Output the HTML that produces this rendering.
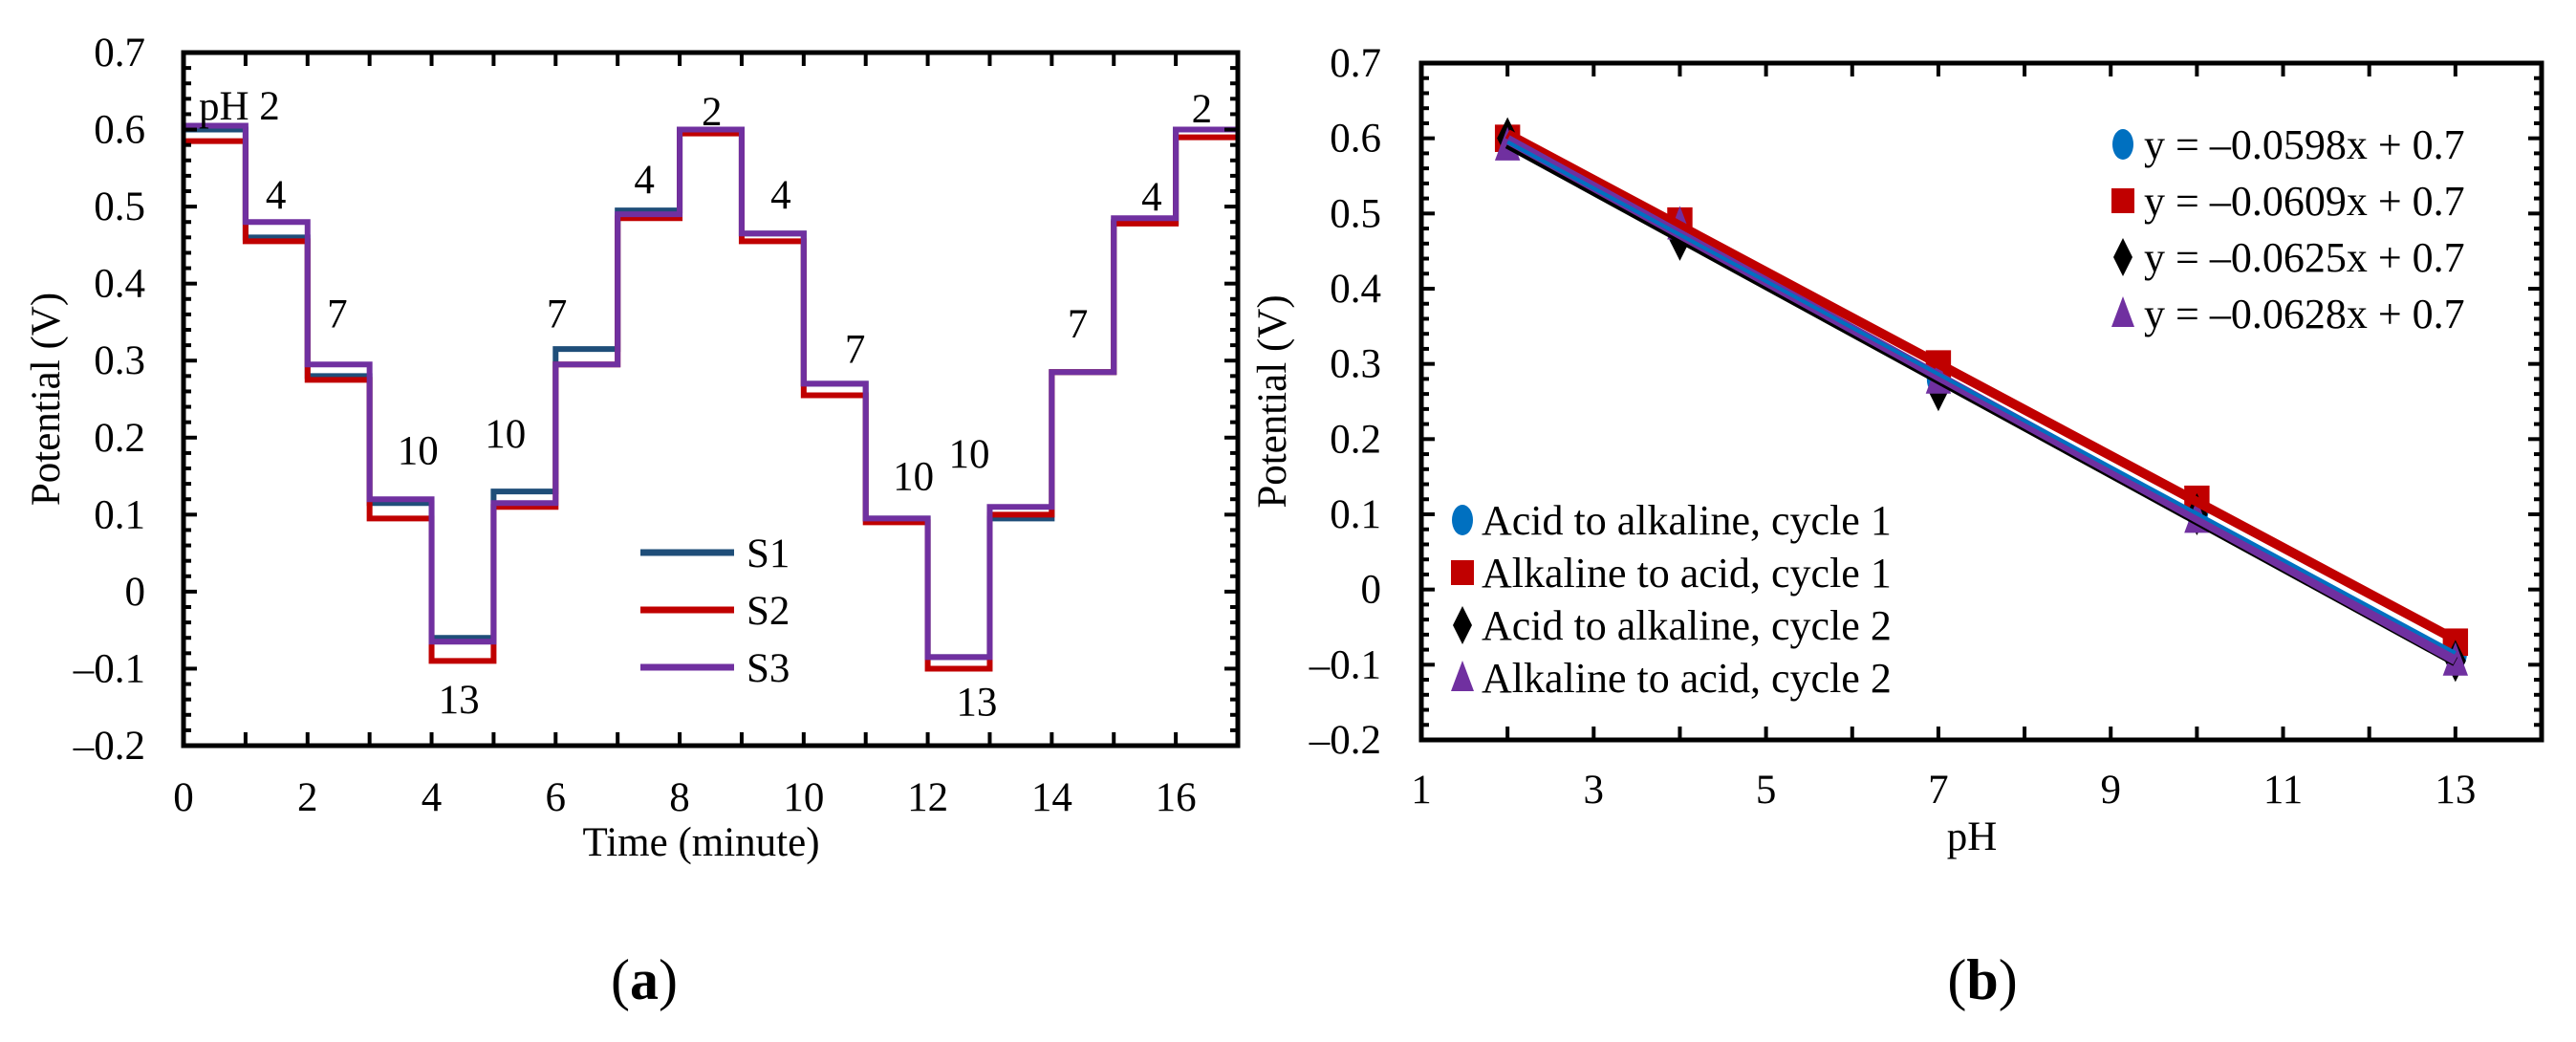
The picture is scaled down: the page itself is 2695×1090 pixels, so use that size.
<!DOCTYPE html>
<html><head><meta charset="utf-8">
<style>
html,body{margin:0;padding:0;background:#fff;}
svg{display:block;font-family:"Liberation Serif",serif;}
</style></head>
<body>
<svg id="fig" width="2695" height="1090" viewBox="0 0 2695 1090" xmlns="http://www.w3.org/2000/svg">
<g id="chartA"></g>
<g id="chartB"></g>
<text x="674" y="1045" font-size="60" text-anchor="middle">(<tspan font-weight="bold">a</tspan>)</text>
<text x="2074" y="1045" font-size="60" text-anchor="middle">(<tspan font-weight="bold">b</tspan>)</text>
</svg>
<script>
// ---------- Chart A data ----------
const segStart = [0,1,2,3,4,5,6,7,8,9,10,11,12,13,14,15,16];
const s1Values = [0.600,0.460,0.280,0.115,-0.060,0.130,0.315,0.495,0.600,0.465,0.270,0.095,-0.085,0.095,0.285,0.480,0.600];
const s2Values = [0.585,0.455,0.275,0.095,-0.090,0.110,0.295,0.485,0.595,0.455,0.255,0.090,-0.100,0.100,0.285,0.478,0.590];
const s3Values = [0.605,0.480,0.295,0.120,-0.065,0.115,0.295,0.490,0.600,0.465,0.270,0.095,-0.085,0.110,0.285,0.485,0.600];
const seriesNamesA = ["S1","S2","S3"];
const phLabels = ["pH 2","4","7","10","13","10","7","4","2","4","7","10","13","10","7","4","2"];
const phLabelT = [0.9,1.49,2.48,3.78,4.44,5.19,6.02,7.43,8.52,9.63,10.83,11.77,12.79,12.67,14.42,15.61,16.42];
const phLabelV = [0.632,0.516,0.362,0.184,-0.139,0.206,0.362,0.536,0.624,0.516,0.316,0.151,-0.142,0.180,0.349,0.514,0.628];
const xTicksA = [0,2,4,6,8,10,12,14,16];
const yTicksA = [0.7,0.6,0.5,0.4,0.3,0.2,0.1,0,-0.1,-0.2];

// ---------- Chart B data ----------
const phValues = [2,4,7,10,13];
const acidAlk1 = [0.595,0.475,0.280,0.105,-0.085];
const alkAcid1 = [0.600,0.490,0.300,0.120,-0.070];
const acidAlk2 = [0.600,0.465,0.265,0.100,-0.095];
const alkAcid2 = [0.590,0.485,0.280,0.095,-0.095];
const legendNamesB = ["Acid to alkaline, cycle 1","Alkaline to acid, cycle 1","Acid to alkaline, cycle 2","Alkaline to acid, cycle 2"];
const equations = ["y = \u20130.0598x + 0.7","y = \u20130.0609x + 0.7","y = \u20130.0625x + 0.7","y = \u20130.0628x + 0.7"];
const xTicksB = [1,3,5,7,9,11,13];
const yTicksB = [0.7,0.6,0.5,0.4,0.3,0.2,0.1,0,-0.1,-0.2];

const NS="http://www.w3.org/2000/svg";
const FS=43;
function mk(parent,tag,attrs,text){const e=document.createElementNS(NS,tag);for(const k in attrs)e.setAttribute(k,attrs[k]);if(text!==undefined)e.textContent=text;parent.appendChild(e);return e;}
function fmt(v){let s=(Math.round(v*10)/10).toString();return s.replace('-','\u2013');}

// ===== Chart A =====
(function(){
const g=document.getElementById('chartA');
const L=192,R=1295,T=55,B=780, x0=0,x1=17, y0=-0.2,y1=0.7;
const X=v=>L+(v-x0)/(x1-x0)*(R-L);
const Y=v=>B-(v-y0)/(y1-y0)*(B-T);
const colors=["#1f4e79","#c00000","#7030a0"];
const all=[s1Values,s2Values,s3Values];
all.forEach((vals,si)=>{
  let d="";
  segStart.forEach((t,i)=>{
    d+=(i===0?"M":"L")+X(t)+","+Y(vals[i])+" L"+X(t+1)+","+Y(vals[i])+" ";
  });
  const p=mk(g,'path',{d:d,fill:"none",stroke:colors[si],"stroke-width":6});
  
  
});
const f=mk(g,'rect',{x:L,y:T,width:R-L,height:B-T,fill:"none",stroke:"#000","stroke-width":5});


for(let t=1;t<17;t++){
  mk(g,'line',{x1:X(t),x2:X(t),y1:B,y2:B-14,stroke:"#000","stroke-width":4});
  mk(g,'line',{x1:X(t),x2:X(t),y1:T,y2:T+14,stroke:"#000","stroke-width":4});
}
for(let k=0;k<=45;k++){
  const v=y0+k*0.02, major=(k%5===0), len=major?14:8;
  mk(g,'line',{x1:L,x2:L+len,y1:Y(v),y2:Y(v),stroke:"#000","stroke-width":4});
  mk(g,'line',{x1:R,x2:R-len,y1:Y(v),y2:Y(v),stroke:"#000","stroke-width":4});
}
xTicksA.forEach(t=>{
  const e=mk(g,'text',{x:X(t),y:848,"font-size":FS,"text-anchor":"middle"},String(t));
  
  
});
yTicksA.forEach(v=>{
  const e=mk(g,'text',{x:152,y:Y(v)+14,"font-size":FS,"text-anchor":"end"},fmt(v));
  
  
});
const xt=mk(g,'text',{x:(L+R)/2-10,y:895,"font-size":FS,"text-anchor":"middle"},"Time (minute)");


const yt=mk(g,'text',{x:0,y:0,"font-size":FS,"text-anchor":"middle",transform:"translate(62,"+((T+B)/2)+") rotate(-90)"},"Potential (V)");


phLabels.forEach((lab,i)=>{
  const e=mk(g,'text',{x:X(phLabelT[i]),y:Y(phLabelV[i])+15,"font-size":FS,"text-anchor":"middle"},lab);
  
  
});
seriesNamesA.forEach((n,i)=>{
  const y=578+i*60;
  const l=mk(g,'line',{x1:670,x2:768,y1:y,y2:y,stroke:colors[i],"stroke-width":7});
  
  
  const t=mk(g,'text',{x:781,y:y+15,"font-size":FS},n);
  
  
});
})();

// ===== Chart B =====
(function(){
const g=document.getElementById('chartB');
const L=1487,R=2659,T=66,B=774, x0=1,x1=14, y0=-0.2,y1=0.7;
const X=v=>L+(v-x0)/(x1-x0)*(R-L);
const Y=v=>B-(v-y0)/(y1-y0)*(B-T);
const colors=["#0070c0","#c00000","#000000","#7030a0"];
const sets=[acidAlk1,alkAcid1,acidAlk2,alkAcid2];
function fit(ys){const n=phValues.length;let sx=0,sy=0,sxx=0,sxy=0;phValues.forEach((x,i)=>{sx+=x;sy+=ys[i];sxx+=x*x;sxy+=x*ys[i];});const m=(n*sxy-sx*sy)/(n*sxx-sx*sx);return [m,(sy-m*sx)/n];}
function marker(parent,type,cx,cy,col,s){
  let e;
  if(type===0) e=mk(parent,'ellipse',{cx:cx,cy:cy,rx:s*0.55,ry:s*0.8,fill:col});
  else if(type===1) e=mk(parent,'rect',{x:cx-s*0.6,y:cy-s*0.65,width:s*1.2,height:s*1.3,fill:col});
  else if(type===2) e=mk(parent,'polygon',{points:`${cx},${cy-s} ${cx+s*0.5},${cy} ${cx},${cy+s} ${cx-s*0.5},${cy}`,fill:col});
  else e=mk(parent,'polygon',{points:`${cx},${cy-s*0.9} ${cx+s*0.6},${cy+s*0.7} ${cx-s*0.6},${cy+s*0.7}`,fill:col});
  return e;
}
sets.forEach((ys,si)=>{
  phValues.forEach((x,i)=>{
    const e=marker(g,si,X(x),Y(ys[i]),colors[si],22);
    
    
  });
});
[1,2,3,0].forEach(si=>{
  const [m,b]=fit(sets[si]);
  const xa=phValues[0],xb=phValues[phValues.length-1];
  const l=mk(g,'line',{x1:X(xa),y1:Y(m*xa+b),x2:X(xb),y2:Y(m*xb+b),stroke:colors[si],"stroke-width":si===0?4:10});
  
  
});
const f=mk(g,'rect',{x:L,y:T,width:R-L,height:B-T,fill:"none",stroke:"#000","stroke-width":5});


for(let t=2;t<14;t++){
  mk(g,'line',{x1:X(t),x2:X(t),y1:B,y2:B-14,stroke:"#000","stroke-width":4});
  mk(g,'line',{x1:X(t),x2:X(t),y1:T,y2:T+14,stroke:"#000","stroke-width":4});
}
for(let k=0;k<=45;k++){
  const v=y0+k*0.02, major=(k%5===0), len=major?14:8;
  mk(g,'line',{x1:L,x2:L+len,y1:Y(v),y2:Y(v),stroke:"#000","stroke-width":4});
  mk(g,'line',{x1:R,x2:R-len,y1:Y(v),y2:Y(v),stroke:"#000","stroke-width":4});
}
xTicksB.forEach(t=>{
  const e=mk(g,'text',{x:X(t),y:840,"font-size":FS,"text-anchor":"middle"},String(t));
  
  
});
yTicksB.forEach(v=>{
  const e=mk(g,'text',{x:1445,y:Y(v)+14,"font-size":FS,"text-anchor":"end"},fmt(v));
  
  
});
const xt=mk(g,'text',{x:2063,y:889,"font-size":FS,"text-anchor":"middle"},"pH");


const yt=mk(g,'text',{x:0,y:0,"font-size":FS,"text-anchor":"middle",transform:"translate(1345,"+((T+B)/2)+") rotate(-90)"},"Potential (V)");


equations.forEach((eq,i)=>{
  const y=151+i*59;
  const m=marker(g,i,2221,y,colors[i],20);
  
  
  const t=mk(g,'text',{x:2243,y:y+15,"font-size":44},eq);
  
  
});
legendNamesB.forEach((n,i)=>{
  const y=544+i*55;
  const m=marker(g,i,1530,y,colors[i],20);
  
  
  const t=mk(g,'text',{x:1550,y:y+15,"font-size":44},n);
  
  
});
})();
</script>
</body></html>
